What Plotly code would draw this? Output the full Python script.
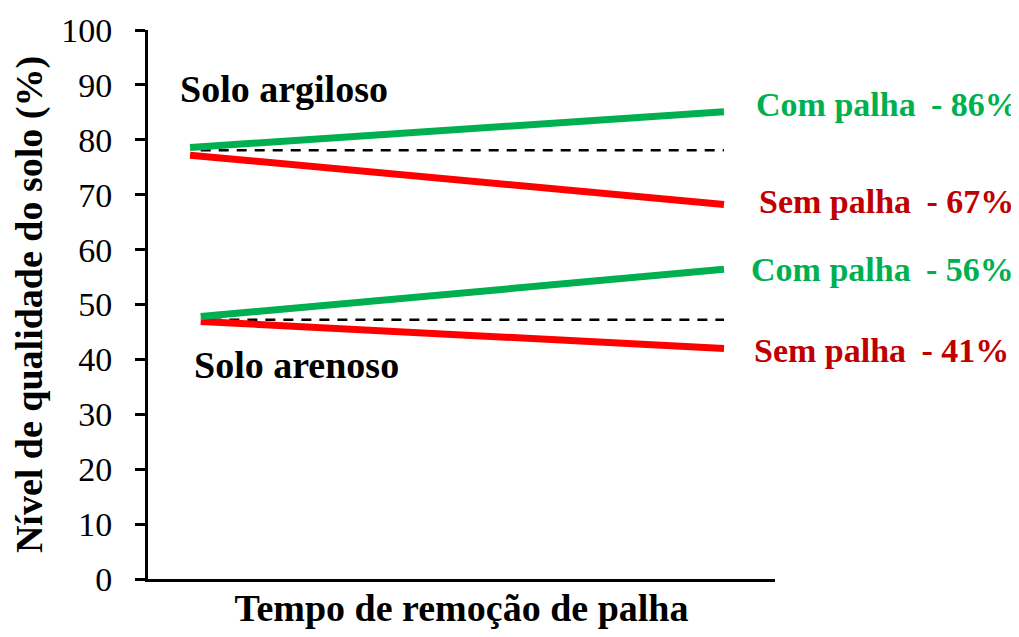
import plotly.graph_objects as go

# time points (start / end of straw removal period), per soil
tempo_argiloso = [0.0, 1.0]
tempo_arenoso = [0.02, 1.0]

# soil quality (%) for each scenario
argiloso_com = [78.6, 85.1]
argiloso_sem = [77.2, 68.2]
argiloso_ref = [78.1, 78.1]
arenoso_com = [47.8, 56.4]
arenoso_sem = [46.9, 42.0]
arenoso_ref = [47.2, 47.2]

rotulos = ["Com palha \u2009- 86%", "Sem palha \u2009- 67%",
           "Com palha \u2009- 56%", "Sem palha \u2009- 41%"]
rotulos_y = [86.5, 68.7, 56.3, 41.7]
rotulos_x = [1.056, 1.062, 1.047, 1.052]
rotulos_cor = ["#00B050", "#C00000", "#00B050", "#C00000"]

VERDE = "#00B050"
VERMELHO = "#FF0000"
FONTE = "Liberation Serif, Times New Roman, serif"

fig = go.Figure()

# reference dashed lines
for tx, ty in [(tempo_argiloso, argiloso_ref), (tempo_arenoso, arenoso_ref)]:
    fig.add_trace(go.Scatter(x=[tx[0] + 0.02, tx[1]], y=ty, mode="lines",
                             line=dict(color="black", width=2.5, dash="10px,8px"),
                             showlegend=False, hoverinfo="skip"))

fig.add_trace(go.Scatter(x=tempo_argiloso, y=argiloso_sem, mode="lines",
                         line=dict(color=VERMELHO, width=7), showlegend=False))
fig.add_trace(go.Scatter(x=tempo_argiloso, y=argiloso_com, mode="lines",
                         line=dict(color=VERDE, width=7), showlegend=False))
fig.add_trace(go.Scatter(x=tempo_arenoso, y=arenoso_sem, mode="lines",
                         line=dict(color=VERMELHO, width=7), showlegend=False))
fig.add_trace(go.Scatter(x=tempo_arenoso, y=arenoso_com, mode="lines",
                         line=dict(color=VERDE, width=7), showlegend=False))

# right-hand labels
for txt, xx, yy, cor in zip(rotulos, rotulos_x, rotulos_y, rotulos_cor):
    fig.add_annotation(x=xx, y=yy, xref="x", yref="y", text="<b>" + txt + "</b>",
                       showarrow=False, xanchor="left", yanchor="middle",
                       font=dict(family=FONTE, size=34, color=cor))

fig.add_annotation(x=0.176, y=89.2, xref="x", yref="y", text="<b>Solo argiloso</b>",
                   showarrow=False, font=dict(family=FONTE, size=38, color="black"))
fig.add_annotation(x=0.2, y=39.0, xref="x", yref="y", text="<b>Solo arenoso</b>",
                   showarrow=False, font=dict(family=FONTE, size=38, color="black"))

# page body has an 8px margin, so size and margins are reduced to fit the window
fig.update_layout(
    width=1011, height=621,
    margin=dict(l=140, r=244, t=22, b=50, autoexpand=False),
    plot_bgcolor="white", paper_bgcolor="white",
    font=dict(family=FONTE, color="black"),
    xaxis=dict(range=[-0.0787, 1.0955], showticklabels=False, ticks="",
               showgrid=False, zeroline=False, showline=True,
               linecolor="black", linewidth=3,
               title=dict(text="<b>Tempo de remoção de palha</b>",
                          font=dict(size=38), standoff=23)),
    yaxis=dict(range=[0, 100], dtick=10, ticks="outside", ticklen=10, tickwidth=2.5,
               tickcolor="black", showgrid=False, zeroline=False, showline=True,
               linecolor="black", linewidth=3, tickfont=dict(size=34),
               ticklabelstandoff=16,
               title=dict(text="<b>Nível de qualidade do solo (%)</b>",
                          font=dict(size=38), standoff=8)),
)

fig.write_html("out.html")
